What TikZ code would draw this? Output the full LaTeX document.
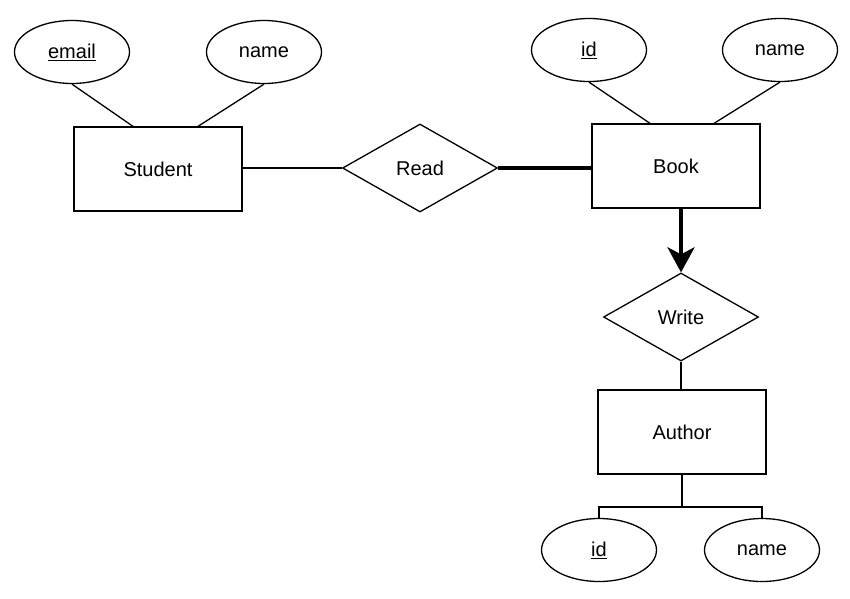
\documentclass[tikz,border=0pt]{standalone}
\usepackage{fontspec}
\setmainfont{Liberation Sans}
\usetikzlibrary{arrows.meta, shapes.geometric}

\begin{document}
\begin{tikzpicture}[
x=1pt, y=-1pt,
line width=1.3pt,
every node/.style={font=\fontsize{20}{24}\selectfont},
entity/.style={draw, rectangle, minimum width=168pt, minimum height=84pt, inner sep=0pt},
attr/.style={draw, ellipse, minimum width=115pt, minimum height=63pt, inner sep=0pt},
rel/.style={draw, diamond, minimum width=155pt, minimum height=88pt, inner sep=0pt},
heavy/.style={line width=4.5pt},
]
\useasboundingbox (0,0) rectangle (850,598);

\node[entity] (student) at (158,169) {Student};
\node[attr] (semail) at (72,52) {\underline{email}};
\node[attr] (sname) at (264,52) {name};

\node[rel] (read) at (420,168) {Read};

\node[entity] (book) at (676,166) {Book};
\node[attr] (bid) at (589,50) {\underline{id}};
\node[attr] (bname) at (780,50) {name};

\node[rel] (write) at (681,317) {Write};

\node[entity] (author) at (682,432) {Author};
\node[attr] (aid) at (599,550) {\underline{id}};
\node[attr] (aname) at (762,550) {name};
\coordinate (fork) at (682,507);

% Attributes
\draw (semail.south) -- ([xshift=-25pt]student.north);
\draw (sname.south) -- ([xshift=40pt]student.north);
\draw (bid.south) -- ([xshift=-26pt]book.north);
\draw (bname.south) -- ([xshift=38pt]book.north);
\draw (author.south) -- (fork);
\draw (aid.north) -- (aid.north |- fork) -- (aname.north |- fork) -- (aname.north);

% Relations
\draw (student.east |- read) -- (read.west);
\draw[heavy] (read.east) -- (read.east -| book.west);
\draw[heavy, -{Stealth[length=25pt, width=27pt, inset=7pt]}] (book.south -| write.north) -- (write.north);
\draw (write.south) -- (write.south |- author.north);
\end{tikzpicture}
\end{document}
